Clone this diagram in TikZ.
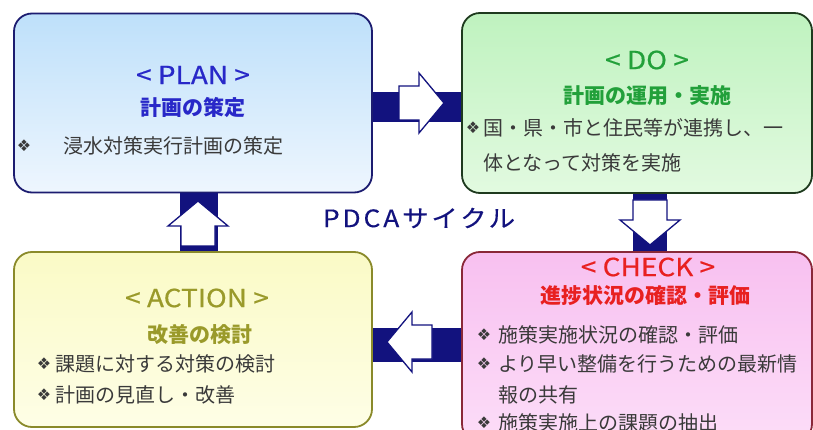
\documentclass[tikz,border=0pt]{standalone}
\usepackage{fontspec}
\setmainfont{Noto Sans CJK JP}
\newfontfamily\titlefont[FakeStretch=1.12,FakeBold=0.6]{Noto Sans CJK JP}
\newfontfamily\cyclefont[LetterSpace=12,FakeStretch=1.1,FakeBold=0.3]{Noto Sans CJK JP}
\newfontfamily\symfont{DejaVu Sans}
\definecolor{navy}{HTML}{12127E}
\definecolor{planborder}{HTML}{1C1C70}
\definecolor{plantext}{HTML}{2828C8}
\definecolor{plantop}{HTML}{BEE0FA}
\definecolor{planbot}{HTML}{EEF6FE}
\definecolor{doborder}{HTML}{1E3A1E}
\definecolor{dotext}{HTML}{22A03A}
\definecolor{dotop}{HTML}{BFF2BF}
\definecolor{dobot}{HTML}{E2FAE0}
\definecolor{actborder}{HTML}{8A8A2A}
\definecolor{acttext}{HTML}{9A9A2A}
\definecolor{acttop}{HTML}{FAFAC6}
\definecolor{actbot}{HTML}{FEFEE6}
\definecolor{chkborder}{HTML}{8A2838}
\definecolor{chktext}{HTML}{E82020}
\definecolor{chktop}{HTML}{F8C0F0}
\definecolor{chkbot}{HTML}{FCDDF8}
\definecolor{bodytext}{HTML}{3A3A3A}
\tikzset{
  box/.style={rectangle, rounded corners=18pt, line width=1.8pt, inner sep=0pt},
  titletext/.style={font=\titlefont\fontsize{25}{30}\selectfont, inner sep=0pt},
  subtext/.style={font=\fontsize{21}{25}\selectfont\bfseries, inner sep=0pt},
  bodyline/.style={font=\fontsize{20}{24}\selectfont, text=bodytext, anchor=west, inner sep=0pt},
  bullet/.style={font=\symfont\fontsize{16}{18}\selectfont, text=bodytext, inner sep=0pt},
  bar/.style={draw=navy, line cap=butt},
  pics/blockarrow/.style={code={
    \draw[fill=white, draw=navy, line width=1.3pt, line join=miter]
      (-22,-17) -- (-2,-17) -- (-2,-30) -- (23,0) -- (-2,30) -- (-2,17) -- (-22,17) -- cycle;}}
}
\begin{document}
\begin{tikzpicture}[x=1pt,y=-1pt]
\useasboundingbox (0,0) rectangle (813,430);
\fill[white] (0,0) rectangle (813,430);
\begin{scope}
\clip (0,0) rectangle (813,430);
% boxes
\node[box, draw=planborder, top color=plantop, bottom color=planbot,
      minimum width=358pt, minimum height=179pt] (plan) at (193,103) {};
\node[box, draw=doborder, top color=dotop, bottom color=dobot,
      minimum width=350pt, minimum height=180pt] (do) at (637,103) {};
\node[box, draw=actborder, top color=acttop, bottom color=actbot,
      minimum width=358pt, minimum height=175pt] (act) at (193,339.5) {};
\node[box, draw=chkborder, top color=chktop, bottom color=chkbot,
      minimum width=350pt, minimum height=190pt] (chk) at (637,347) {};
% connector bars
\coordinate (vx1) at (650,0);
\coordinate (vx2) at (199,0);
\coordinate (hy1) at (0,107);
\coordinate (hy2) at (0,345);
\draw[bar, line width=30pt] (plan.east |- hy1) -- (do.west |- hy1);
\draw[bar, line width=34pt] (do.south -| vx1) -- (chk.north -| vx1);
\draw[bar, line width=34pt] (chk.west |- hy2) -- (act.east |- hy2);
\draw[bar, line width=38pt] (act.north -| vx2) -- (plan.south -| vx2);
% white arrows
\pic at (421,103) {blockarrow};
\pic[rotate=-90] at (650,222) {blockarrow};
\pic[rotate=180] at (410,342) {blockarrow};
\pic[rotate=90] at (198,224) {blockarrow};
% PLAN text
\node[titletext, text=plantext] (plantitle) at (193,75) {< PLAN >};
\node[subtext, text=plantext] (plansub) at (193,108) {計画の策定};
\node[bullet] (planb1) at (24,146) {❖};
\node[bodyline] (planl1) at (63,146) {浸水対策実行計画の策定};
% DO text
\node[titletext, text=dotext] (dotitle) at (647,60) {< DO >};
\node[subtext, text=dotext] (dosub) at (647,96) {計画の運用・実施};
\node[bullet] (dob1) at (473,128) {❖};
\node[bodyline] (dol1) at (483,128) {国・県・市と住民等が連携し、一};
\node[bodyline] (dol2) at (483,163) {体となって対策を実施};
% ACTION text
\node[titletext, text=acttext] (acttitle) at (197,298) {< ACTION >};
\node[subtext, text=acttext] (actsub) at (200,335) {改善の検討};
\node[bullet] (actb1) at (44,364) {❖};
\node[bodyline] (actl1) at (55,364) {課題に対する対策の検討};
\node[bullet] (actb2) at (44,395) {❖};
\node[bodyline] (actl2) at (55,395) {計画の見直し・改善};
% CHECK text
\node[titletext, text=chktext] (chktitle) at (648,267) {< CHECK >};
\node[subtext, text=chktext] (chksub) at (645,296) {進捗状況の確認・評価};
\node[bullet] (chkb1) at (484,335) {❖};
\node[bodyline] (chkl1) at (498,335) {施策実施状況の確認・評価};
\node[bullet] (chkb2) at (484,364) {❖};
\node[bodyline] (chkl2) at (498,364) {より早い整備を行うための最新情};
\node[bodyline] (chkl3) at (498,395) {報の共有};
\node[bullet] (chkb3) at (484,423) {❖};
\node[bodyline] (chkl4) at (498,423) {施策実施上の課題の抽出};
% center label
\node[font=\cyclefont\fontsize{24}{28}\selectfont, text=navy, inner sep=0pt] (cycle) at (419,218) {PDCAサイクル};
\end{scope}
\end{tikzpicture}
\end{document}
